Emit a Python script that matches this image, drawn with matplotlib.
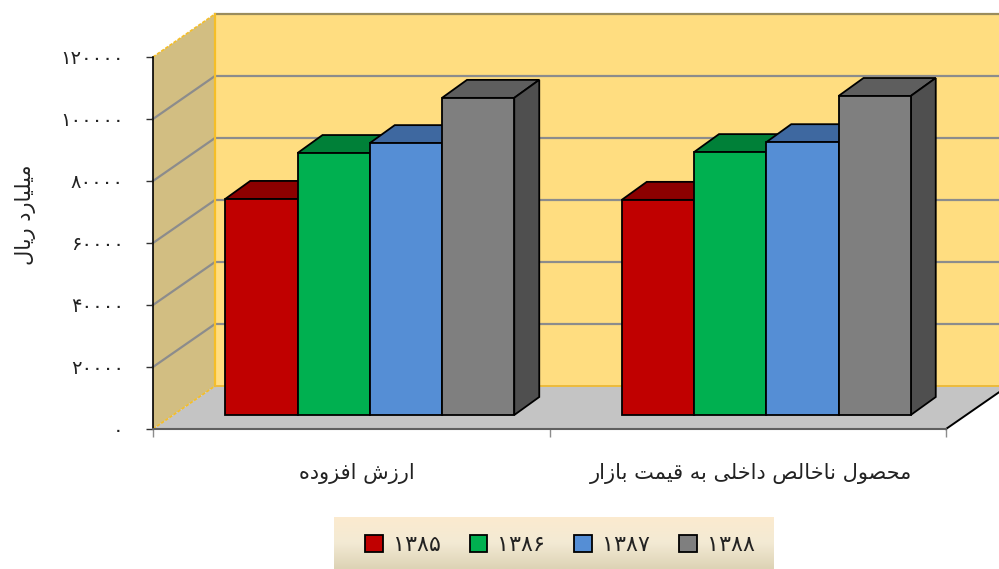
import matplotlib
matplotlib.use("Agg")
import matplotlib.pyplot as plt
import numpy as np
from matplotlib.colors import LinearSegmentedColormap
from matplotlib.patches import Polygon
from matplotlib.transforms import ScaledTranslation

plt.rcParams['font.family'] = ['DejaVu Sans']

years = ["۱۳۸۵", "۱۳۸۶", "۱۳۸۷", "۱۳۸۸"]
categories = ["ارزش افزوده", "محصول ناخالص داخلی به قیمت بازار"]
values_1385 = [69700, 69400]
values_1386 = [84500, 84800]
values_1387 = [87700, 88000]
values_1388 = [102300, 102900]
y_ticks = [0, 20000, 40000, 60000, 80000, 100000, 120000]
y_title = "میلیارد ریال"

front_colors = ["#C00000", "#00B050", "#558ED5", "#7F7F7F"]
top_colors = ["#8C0000", "#008038", "#3E68A0", "#5E5E5E"]
side_colors = ["#7A0000", "#006E30", "#355A8C", "#4F4F4F"]

# matplotlib does not shape arabic: forms are isolated, final, initial, medial
forms = {
    "ا": "\uFE8D\uFE8E", "د": "\uFEA9\uFEAA", "ر": "\uFEAD\uFEAE", "ز": "\uFEAF\uFEB0", "و": "\uFEED\uFEEE",
    "ب": "\uFE8F\uFE90\uFE91\uFE92", "ت": "\uFE95\uFE96\uFE97\uFE98", "ح": "\uFEA1\uFEA2\uFEA3\uFEA4",
    "خ": "\uFEA5\uFEA6\uFEA7\uFEA8", "ش": "\uFEB5\uFEB6\uFEB7\uFEB8", "ص": "\uFEB9\uFEBA\uFEBB\uFEBC",
    "ف": "\uFED1\uFED2\uFED3\uFED4", "ق": "\uFED5\uFED6\uFED7\uFED8", "ل": "\uFEDD\uFEDE\uFEDF\uFEE0",
    "م": "\uFEE1\uFEE2\uFEE3\uFEE4", "ن": "\uFEE5\uFEE6\uFEE7\uFEE8", "ه": "\uFEE9\uFEEA\uFEEB\uFEEC",
    "ی": "\uFBFC\uFBFD\uFBFE\uFBFF",
}


def shape(text):
    out = []
    for i, c in enumerate(text):
        if c not in forms:
            out.append(c)
            continue
        before = i > 0 and text[i - 1] in forms and len(forms[text[i - 1]]) == 4
        after = i < len(text) - 1 and text[i + 1] in forms and len(forms[c]) == 4
        if before and after:
            out.append(forms[c][3])
        elif before:
            out.append(forms[c][1])
        elif after:
            out.append(forms[c][2])
        else:
            out.append(forms[c][0])
    return "".join(out[::-1])


def persian(n):
    return "".join("۰۱۲۳۴۵۶۷۸۹"[int(d)] for d in str(n))


W, H = 999, 569
fig = plt.figure(figsize=(W / 100, H / 100), dpi=100)
ax = fig.add_axes([153 / W, (H - 429) / H, 793 / W, 372 / H])
ax.set_xlim(0, 2)
ax.set_ylim(0, 120000)
ax.patch.set_visible(False)

# pixels to data units
px = 2 / 793
py = 120000 / 372
wall_dx, wall_dy = 62 * px, 43 * py
bar_dx, bar_dy = 25 * px, 18 * py
shift_x, shift_y = 18.5 * px, 14 * py
bar_w = 72.25 * px
top = y_ticks[-1]

# walls and floor
ax.add_patch(Polygon([(wall_dx, wall_dy), (2.3, wall_dy), (2.3, top + wall_dy), (wall_dx, top + wall_dy)],
                     fc="#FFDD80", ec="none", clip_on=False, zorder=1))
ax.add_patch(Polygon([(0, 0), (wall_dx, wall_dy), (wall_dx, top + wall_dy), (0, top)],
                     fc="#D2BE82", ec="none", clip_on=False, zorder=1))
ax.add_patch(Polygon([(0, 0), (2, 0), (2 + wall_dx, wall_dy), (wall_dx, wall_dy)],
                     fc="#C4C4C4", ec="none", clip_on=False, zorder=1))

for t in y_ticks[1:]:
    color = "#8C8C8C" if t < top else "#9A8C5C"
    ax.plot([wall_dx, 2.3], [t + wall_dy, t + wall_dy], color=color, lw=1.6, clip_on=False, zorder=2)
    if t < top:
        ax.plot([0, wall_dx], [t, t + wall_dy], color=color, lw=1.6, clip_on=False, zorder=2)
ax.plot([wall_dx, wall_dx], [wall_dy, top + wall_dy], color="#F5BE28", lw=1.6, clip_on=False, zorder=2)
ax.plot([wall_dx, 2.3], [wall_dy, wall_dy], color="#EDBB3C", lw=1.4, clip_on=False, zorder=2)
ax.plot([0, wall_dx], [0, wall_dy], color="#F5BE28", lw=1.2, ls=(0, (2, 1)), clip_on=False, zorder=2)
ax.plot([0, wall_dx], [top, top + wall_dy], color="#F5BE28", lw=1.2, ls=(0, (2, 1)), clip_on=False, zorder=2)
ax.plot([2, 2 + wall_dx], [0, wall_dy], color="black", lw=1.4, clip_on=False, zorder=2)

# bars, left to right so that each one hides the side of the previous one
series = [values_1385, values_1386, values_1387, values_1388]
handles = []
z = 3
for c in range(len(categories)):
    x0 = c + 0.5 + shift_x - 2 * bar_w
    for s, vals in enumerate(series):
        left = x0 + s * bar_w
        right = left + bar_w
        v = vals[c] + shift_y
        base = shift_y
        ax.add_patch(Polygon([(left, v), (right, v), (right + bar_dx, v + bar_dy), (left + bar_dx, v + bar_dy)],
                             fc=top_colors[s], ec="black", lw=1.3, clip_on=False, zorder=z))
        ax.add_patch(Polygon([(right, base), (right + bar_dx, base + bar_dy), (right + bar_dx, v + bar_dy), (right, v)],
                             fc=side_colors[s], ec="black", lw=1.3, clip_on=False, zorder=z))
        b = ax.bar(left, vals[c], bar_w, bottom=base, align="edge", color=front_colors[s],
                   edgecolor="black", linewidth=1.3, clip_on=False, zorder=z + 1, label=years[s])
        if c == 0:
            handles.append(b)
        z += 2

for name in ["top", "right"]:
    ax.spines[name].set_visible(False)
ax.spines["left"].set_color("black")
ax.spines["left"].set_linewidth(1.2)
ax.spines["left"].set_zorder(2.5)
ax.spines["bottom"].set_color("#5F5F5F")
ax.spines["bottom"].set_linewidth(1.5)
ax.spines["bottom"].set_zorder(2.5)

ax.set_yticks(y_ticks)
ax.set_yticklabels([persian(t) for t in y_ticks], fontsize=14, color="#222222")
ax.tick_params(axis="y", length=5, width=1, color="#333333", pad=16)
ax.set_xticks([0, 1, 2])
ax.set_xticklabels([])
ax.tick_params(axis="x", which="major", length=6, width=1, color="#8C8C8C")
ax.set_xticks([0.5, 1.5], minor=True)
labels = ax.set_xticklabels([shape(c) for c in categories], minor=True, fontsize=15, color="#222222")
ax.tick_params(axis="x", which="minor", length=0, pad=24.5)
labels[0].set_transform(labels[0].get_transform() + ScaledTranslation(6 / 100, 0, fig.dpi_scale_trans))
labels[1].set_transform(labels[1].get_transform() + ScaledTranslation(3 / 100, 0, fig.dpi_scale_trans))
ax.set_ylabel(shape(y_title), fontsize=15, color="#222222", rotation=90)
ax.yaxis.set_label_coords(-0.147, 0.575)

# legend band
band = fig.add_axes([334 / W, 0, 440 / W, 52 / H], zorder=-1)
cmap = LinearSegmentedColormap.from_list("band", ["#FCEBCF", "#F3EAD4", "#DDD3B5"])
band.imshow(np.linspace(0, 1, 52).reshape(-1, 1), aspect="auto", cmap=cmap)
band.axis("off")

fig.legend(handles=handles, labels=years, ncol=4, loc="center", bbox_to_anchor=(560 / W, (H - 545) / H),
           frameon=False, fontsize=16, handlelength=0.8, handleheight=0.8, handletextpad=0.45,
           columnspacing=1.3, labelcolor="#222222")

fig.savefig("out.png", dpi=100)
plt.close()
